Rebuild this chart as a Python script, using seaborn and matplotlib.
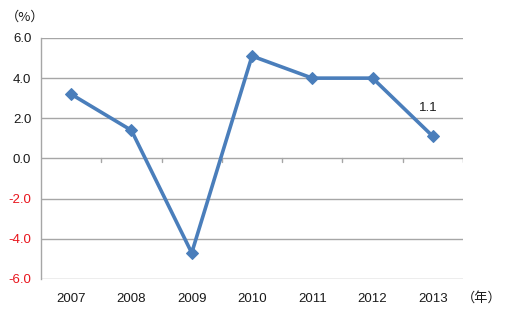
import matplotlib
matplotlib.use("Agg")
import matplotlib.pyplot as plt
import seaborn as sns
import pandas as pd

years = ["2007", "2008", "2009", "2010", "2011", "2012", "2013"]
growth = [3.2, 1.4, -4.7, 5.1, 4.0, 4.0, 1.1]
yticks = [6.0, 4.0, 2.0, 0.0, -2.0, -4.0, -6.0]
label_value = "1.1"

sns.set_theme(style="white")
plt.rcParams['font.family'] = ['Liberation Sans', 'Noto Sans CJK JP', 'DejaVu Sans']

df = pd.DataFrame({"x": range(len(years)), "y": growth})

fig = plt.figure(figsize=(5.17, 3.19), dpi=100)
ax = fig.add_axes([0.0793, 0.1254, 0.8163, 0.7556])

grid_c = "#a6a6a6"
for v in yticks:
    ax.axhline(v, color=grid_c, lw=1.0, zorder=1)

# category boundary ticks on the zero line
for i in range(len(years)):
    ax.plot([i + 0.5, i + 0.5], [0, -0.18], color=grid_c, lw=1.0, zorder=1)

sns.lineplot(data=df, x="x", y="y", ax=ax, color="#4a7ebb", lw=2.6,
             marker="D", markersize=6.5, markeredgecolor="#4a7ebb", zorder=3)

fs = 9.5
ax.set_xlim(-0.5, len(years) - 0.5)
ax.set_ylim(-6, 6)
ax.set_xticks(range(len(years)))
ax.set_xticklabels(years, fontsize=fs, color="#1a1a1a")
ax.set_yticks(yticks)
ax.set_yticklabels([f"{v:.1f}" for v in yticks], fontsize=fs)
for lbl, v in zip(ax.get_yticklabels(), yticks):
    lbl.set_color("#e8141c" if v < 0 else "#1a1a1a")
ax.tick_params(axis="y", length=0, pad=7)
ax.tick_params(axis="x", length=0, pad=10)
ax.set_xlabel("")
ax.set_ylabel("")

for s in ["top", "right", "bottom"]:
    ax.spines[s].set_visible(False)
ax.spines["left"].set_color(grid_c)
ax.spines["left"].set_linewidth(1.0)

ax.annotate(label_value, (len(years) - 1, growth[-1]), xytext=(-3, 16),
            textcoords="offset points", ha="center", va="bottom",
            fontsize=fs, color="#1a1a1a")

cjk = ['Noto Sans CJK JP', 'DejaVu Sans']
fig.text(6 / 517, 1 - 17 / 319, "（%）", fontsize=fs, va="center", ha="left",
         family=cjk, color="#1a1a1a")
fig.text(462 / 517, 1 - 298 / 319, "（年）", fontsize=fs, va="center", ha="left",
         family=cjk, color="#1a1a1a")

fig.savefig("out.png", dpi=100)
